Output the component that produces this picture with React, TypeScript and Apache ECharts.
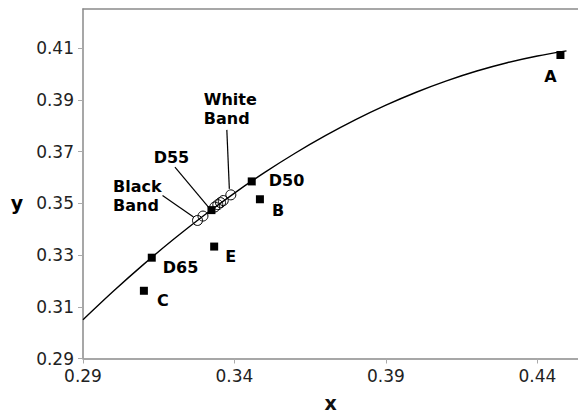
import React, { useEffect, useRef } from "react";
import * as echarts from "echarts";

const xTicks = [0.29, 0.34, 0.39, 0.44];
const yTicks = [0.29, 0.31, 0.33, 0.35, 0.37, 0.39, 0.41];

const locusX = [0.29, 0.3, 0.31, 0.32, 0.33, 0.34, 0.35, 0.36, 0.37, 0.38, 0.39, 0.4, 0.41, 0.42, 0.43, 0.44, 0.4496];
const locusY = [0.305, 0.316, 0.3264, 0.3362, 0.3454, 0.354, 0.362, 0.3694, 0.3762, 0.3824, 0.388, 0.393, 0.3974, 0.4012, 0.4044, 0.407, 0.409];

const pointNames = ["A", "B", "C", "D50", "D55", "D65", "E"];
const pointX = [0.4476, 0.3484, 0.3101, 0.3457, 0.3324, 0.3127, 0.3333];
const pointY = [0.4074, 0.3516, 0.3162, 0.3585, 0.3474, 0.329, 0.3333];

const bandX = [0.3278, 0.3296, 0.3335, 0.3345, 0.3354, 0.3363, 0.3388];
const bandY = [0.3434, 0.3451, 0.3486, 0.3495, 0.3503, 0.3511, 0.3533];

const FONT = "DejaVu Sans";

// label placement relative to marker (pixels)
const labelOffsets: Record<string, [number, number, string]> = {
  A: [-10, 21, "center"],
  B: [12, 11, "left"],
  C: [13, 10, "left"],
  D50: [17, -1, "left"],
  D55: [0, 0, "none"],
  D65: [11, 10, "left"],
  E: [11, 10, "left"],
};

export default function App() {
  const ref = useRef<HTMLDivElement>(null);
  useEffect(() => {
    if (!ref.current) return;
    const chart = echarts.init(ref.current, undefined, { renderer: "svg" });
    const axisColor = "#8a8a8a";
    const option: any = {
      animation: false,
      backgroundColor: "#fff",
      grid: { left: 83, right: 0, top: 9, bottom: 51 },
      xAxis: [
        {
          type: "value",
          min: 0.29,
          max: 0.4534,
          interval: 0.05,
          splitLine: { show: false },
          axisLine: { onZero: false, lineStyle: { color: axisColor, width: 1.5 } },
          axisTick: { show: true, length: 5, customValues: xTicks, lineStyle: { color: "#aaa" } },
          axisLabel: {
            customValues: xTicks,
            formatter: (v: number) => v.toFixed(2),
            fontFamily: FONT,
            fontSize: 17,
            color: "#222",
            margin: 9,
          },
          name: "x",
          nameLocation: "middle",
          nameGap: 44,
          nameTextStyle: { fontFamily: FONT, fontSize: 19, fontWeight: "bold", color: "#111", verticalAlign: "middle" },
        },
        {
          type: "value",
          position: "top",
          min: 0.29,
          max: 0.4534,
          splitLine: { show: false },
          axisLine: { show: true, lineStyle: { color: axisColor, width: 1.5 } },
          axisTick: { show: false },
          axisLabel: { show: false },
        },
      ],
      yAxis: {
        type: "value",
        min: 0.29,
        max: 0.4252,
        interval: 0.02,
        splitLine: { show: false },
        axisLine: { show: true, onZero: false, lineStyle: { color: axisColor, width: 1.5 } },
        axisTick: { show: true, length: 5, customValues: yTicks, lineStyle: { color: "#aaa" } },
        axisLabel: {
          customValues: yTicks,
          formatter: (v: number) => v.toFixed(2),
          fontFamily: FONT,
          fontSize: 17,
          color: "#222",
          margin: 9,
        },
      },
      series: [
        {
          type: "line",
          data: locusX.map((x, i) => [x, locusY[i]]),
          smooth: 0.3,
          showSymbol: false,
          lineStyle: { color: "#000", width: 1.4 },
          z: 1,
        },
        {
          type: "scatter",
          data: bandX.map((x, i) => [x, bandY[i]]),
          symbol: "circle",
          symbolSize: 10,
          itemStyle: { color: "none", borderColor: "#000", borderWidth: 1, opacity: 1 },
          z: 3,
        },
        {
          type: "scatter",
          symbol: "rect",
          symbolSize: 8,
          itemStyle: { color: "#000", opacity: 1 },
          z: 4,
          data: pointNames.map((n, i) => {
            const o = labelOffsets[n];
            return {
              name: n,
              value: [pointX[i], pointY[i]],
              label: {
                show: o[2] !== "none",
                position: "inside",
                formatter: n,
                align: o[2],
                verticalAlign: "middle",
                offset: [o[0], o[1]],
                fontFamily: FONT,
                fontSize: 16,
                fontWeight: "bold",
                color: "#000",
                opacity: 1,
                textBorderWidth: 0,
                textBorderColor: "transparent",
              },
            };
          }),
        },
      ],
    };
    chart.setOption(option);

    const px = (x: number, y: number) => chart.convertToPixel({ gridIndex: 0 }, [x, y]) as number[];
    const white = px(bandX[6], bandY[6]);
    const black = px(bandX[0], bandY[0]);
    const d55 = px(pointX[4], pointY[4]);
    const yName = px(0.29, 0.35);
    const txt = (x: number, y: number, t: string, align: string, size = 16) => ({
      type: "text",
      x,
      y,
      style: {
        text: t,
        fontFamily: FONT,
        fontSize: size,
        fontWeight: "bold",
        fill: "#000",
        align,
        verticalAlign: "middle",
        lineHeight: 19,
      },
      z: 10,
    });
    const ln = (x1: number, y1: number, x2: number, y2: number) => ({
      type: "line",
      shape: { x1, y1, x2, y2 },
      style: { stroke: "#000", lineWidth: 1.2 },
      z: 10,
    });
    chart.setOption({
      graphic: [
        txt(white[0] - 27, white[1] - 86, "White\nBand", "left"),
        ln(white[0] - 4, white[1] - 65, white[0] - 1.5, white[1] - 6),
        txt(d55[0] - 40, d55[1] - 52.5, "D55", "center"),
        ln(d55[0] - 36.5, d55[1] - 43, d55[0] - 3, d55[1] - 3),
        txt(black[0] - 84.5, black[1] - 24, "Black\nBand", "left"),
        ln(black[0] - 35, black[1] - 25, black[0] - 4, black[1] - 3.5),
        txt(17, yName[1], "y", "center", 19),
      ],
    });
    return () => chart.dispose();
  }, []);
  return <div ref={ref} style={{ width: 578, height: 417, position: "absolute", left: 0, top: 0 }} />;
}
